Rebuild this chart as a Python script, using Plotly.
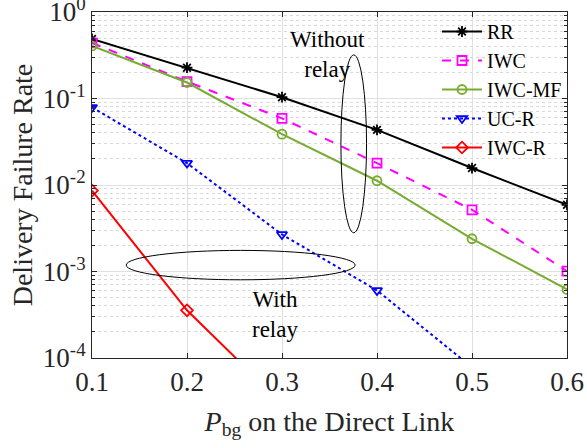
import plotly.graph_objects as go

x = [0.1, 0.2, 0.3, 0.4, 0.5, 0.6]
rr = [0.488, 0.227, 0.1035, 0.0434, 0.0157, 0.0059]
iwc = [0.44, 0.157, 0.059, 0.0179, 0.00517, 0.00101]
iwc_mf = [0.405, 0.153, 0.0387, 0.0112, 0.00239, 0.00062]
uc_r = [0.079, 0.0179, 0.00268, 0.000604, 0.000078, 0.0000100]
iwc_r = [0.0086, 0.000356, 0.00003, 0.0000025, 0.0000002, 0.00000002]

ytick_vals = [1e-4, 1e-3, 1e-2, 1e-1, 1e0]
ytick_text = ["10<sup>-4</sup>", "10<sup>-3</sup>", "10<sup>-2</sup>", "10<sup>-1</sup>", "10<sup>0</sup>"]
yminor_vals = [k * 10.0 ** e for e in range(-4, 0) for k in range(2, 10)]
xtick_vals = [0.1, 0.2, 0.3, 0.4, 0.5, 0.6]
xtick_text = ["0.1", "0.2", "0.3", "0.4", "0.5", "0.6"]

FONT = "Times New Roman, Liberation Serif, serif"
TXT = "#262626"

series = [
    ("RR", rr, "black", "solid", "asterisk-open"),
    ("IWC", iwc, "#FF00FF", "dash", "square-open"),
    ("IWC-MF", iwc_mf, "#77AC30", "solid", "circle-open"),
    ("UC-R", uc_r, "#0000FF", "dot", "triangle-down-open"),
    ("IWC-R", iwc_r, "#FF0000", "solid", "diamond-open"),
]

fig = go.Figure()
for name, ys, col, dash, sym in series:
    fig.add_trace(go.Scatter(
        x=x, y=ys, name=name, mode="lines+markers",
        line=dict(color=col, width=2, dash=dash),
        marker=dict(symbol=sym, size=9, color=col, line=dict(color=col, width=1.8)),
        cliponaxis=True,
    ))

# ellipses in axis-domain coordinates
fig.add_shape(type="circle", xref="x domain", yref="y domain", x0=0.524, x1=0.578, y0=0.362, y1=0.876,
              line=dict(color="black", width=1))
fig.add_shape(type="circle", xref="x domain", yref="y domain", x0=0.072, x1=0.554, y0=0.226, y1=0.311,
              line=dict(color="black", width=1))

fig.add_annotation(x=0.348, y=-0.49, xref="x", yref="y", text="Without<br>relay", showarrow=False,
                   font=dict(family=FONT, size=23, color="black"), align="center")
fig.add_annotation(x=0.293, y=-3.50, xref="x", yref="y", text="With<br>relay", showarrow=False,
                   font=dict(family=FONT, size=23, color="black"), align="center")

fig.update_layout(
    width=587, height=448,
    margin=dict(l=92, r=20, t=12, b=90),
    paper_bgcolor="white", plot_bgcolor="white",
    font=dict(family=FONT, size=26, color=TXT),
    showlegend=True,
    legend=dict(x=1, y=1, xanchor="right", yanchor="top",
                bgcolor="rgba(255,255,255,0)",
                font=dict(family=FONT, size=20, color="black"),
                tracegroupgap=0, itemwidth=40, borderwidth=0),
)
fig.update_xaxes(
    range=[0.1, 0.6], tickmode="array", tickvals=xtick_vals, ticktext=xtick_text,
    tickfont=dict(family=FONT, size=27, color=TXT), ticklabeloverflow="allow",
    showgrid=True, gridcolor="#E0E0E0", gridwidth=1,
    ticks="inside", ticklen=5, tickcolor=TXT,
    showline=True, linecolor=TXT, linewidth=1, mirror="ticks",
    zeroline=False, automargin=False,
    title=dict(text="<i>P</i><sub>bg</sub> on the Direct Link", font=dict(family=FONT, size=28, color=TXT), standoff=14),
)
fig.update_yaxes(
    type="log", range=[-4, 0], tickmode="array", tickvals=ytick_vals, ticktext=ytick_text,
    tickfont=dict(family=FONT, size=27, color=TXT), ticklabeloverflow="allow",
    showgrid=True, gridcolor="#E0E0E0", gridwidth=1,
    ticks="inside", ticklen=5, tickcolor=TXT,
    showline=True, linecolor=TXT, linewidth=1, mirror="ticks",
    minor=dict(tickmode="array", tickvals=yminor_vals, ticks="inside", ticklen=3, tickcolor=TXT,
               showgrid=True, gridcolor="#D9D9D9", griddash="dot", gridwidth=1),
    zeroline=False, automargin=False,
    title=dict(text="Delivery Failure Rate", font=dict(family=FONT, size=28, color=TXT), standoff=2),
)

fig.write_html("out.html")
